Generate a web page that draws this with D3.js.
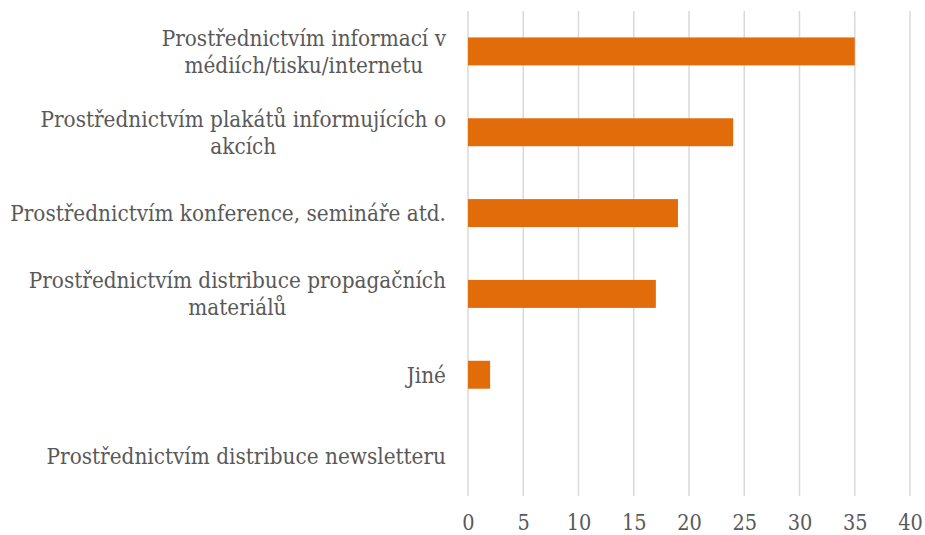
<!DOCTYPE html>
<html>
<head>
<meta charset="utf-8">
<script src="https://cdn.jsdelivr.net/npm/d3@7"></script>
<style>
  html, body { margin: 0; padding: 0; background: #fff; }
  svg { display: block; }
  text { font-family: "DejaVu Serif Condensed", "DejaVu Serif", serif; font-stretch: condensed; fill: #595959; }
</style>
</head>
<body>
<svg id="chart" width="925" height="535"></svg>
<script>
// Category labels (lines of each wrapped label), top to bottom
const categories = [
  ["Prostřednictvím informací v", "médiích/tisku/internetu"],
  ["Prostřednictvím plakátů informujících o", "akcích"],
  ["Prostřednictvím konference, semináře atd."],
  ["Prostřednictvím distribuce propagačních", "materiálů"],
  ["Jiné"],
  ["Prostřednictvím distribuce newsletteru"]
];
const values = [35, 24, 19, 17, 2, 0];
const xTicks = [0, 5, 10, 15, 20, 25, 30, 35, 40];

const width = 925, height = 535;
const margin = { top: 11, right: 15, bottom: 39, left: 468 };

const svg = d3.select("#chart");

const x = d3.scaleLinear()
  .domain([0, 40])
  .range([margin.left, width - margin.right]);

const y = d3.scaleBand()
  .domain(d3.range(categories.length))
  .range([margin.top, height - margin.bottom])
  .paddingInner(0.654)
  .paddingOuter(0.327);

// vertical gridlines
svg.append("g")
  .selectAll("line")
  .data(xTicks)
  .join("line")
  .attr("x1", d => x(d)).attr("x2", d => x(d))
  .attr("y1", margin.top).attr("y2", height - margin.bottom)
  .attr("stroke", "#d9d9d9")
  .attr("stroke-width", 1.5);

// bars
svg.append("g")
  .selectAll("rect")
  .data(values)
  .join("rect")
  .attr("x", x(0))
  .attr("y", (d, i) => y(i))
  .attr("width", d => x(d) - x(0))
  .attr("height", y.bandwidth())
  .attr("fill", "#e36c0a");

// x-axis tick labels
const xAxis = d3.axisBottom(x).tickValues(xTicks).tickSize(0).tickPadding(0);
const gx = svg.append("g")
  .attr("transform", `translate(0,${height - margin.bottom})`)
  .call(xAxis);
gx.select(".domain").remove();
gx.selectAll("text")
  .attr("dy", null)
  .attr("y", 34)
  .style("font-family", '"DejaVu Serif Condensed", "DejaVu Serif", serif')
  .style("font-size", "21.5px")
  .attr("fill", "#595959");

// category labels: each block sits right-aligned against the plot,
// with its wrapped lines centred within the block
const lineH = 27;
const labelRight = margin.left - 22;
const lab = svg.append("g")
  .selectAll("text")
  .data(categories)
  .join("text")
  .attr("text-anchor", "middle")
  .attr("font-size", 22.3)
  .attr("y", (d, i) => y(i) + y.bandwidth() / 2);

lab.selectAll("tspan")
  .data(d => d.map((t, k) => ({ t, k, n: d.length })))
  .join("tspan")
  .attr("dy", d => d.k === 0 ? `${(-(d.n - 1) / 2) * lineH + 8}px` : `${lineH}px`)
  .text(d => d.t);

lab.each(function () {
  const spans = d3.select(this).selectAll("tspan");
  let w = 0;
  spans.each(function () { w = Math.max(w, this.getComputedTextLength()); });
  spans.attr("x", labelRight - w / 2);
});
</script>
</body>
</html>
